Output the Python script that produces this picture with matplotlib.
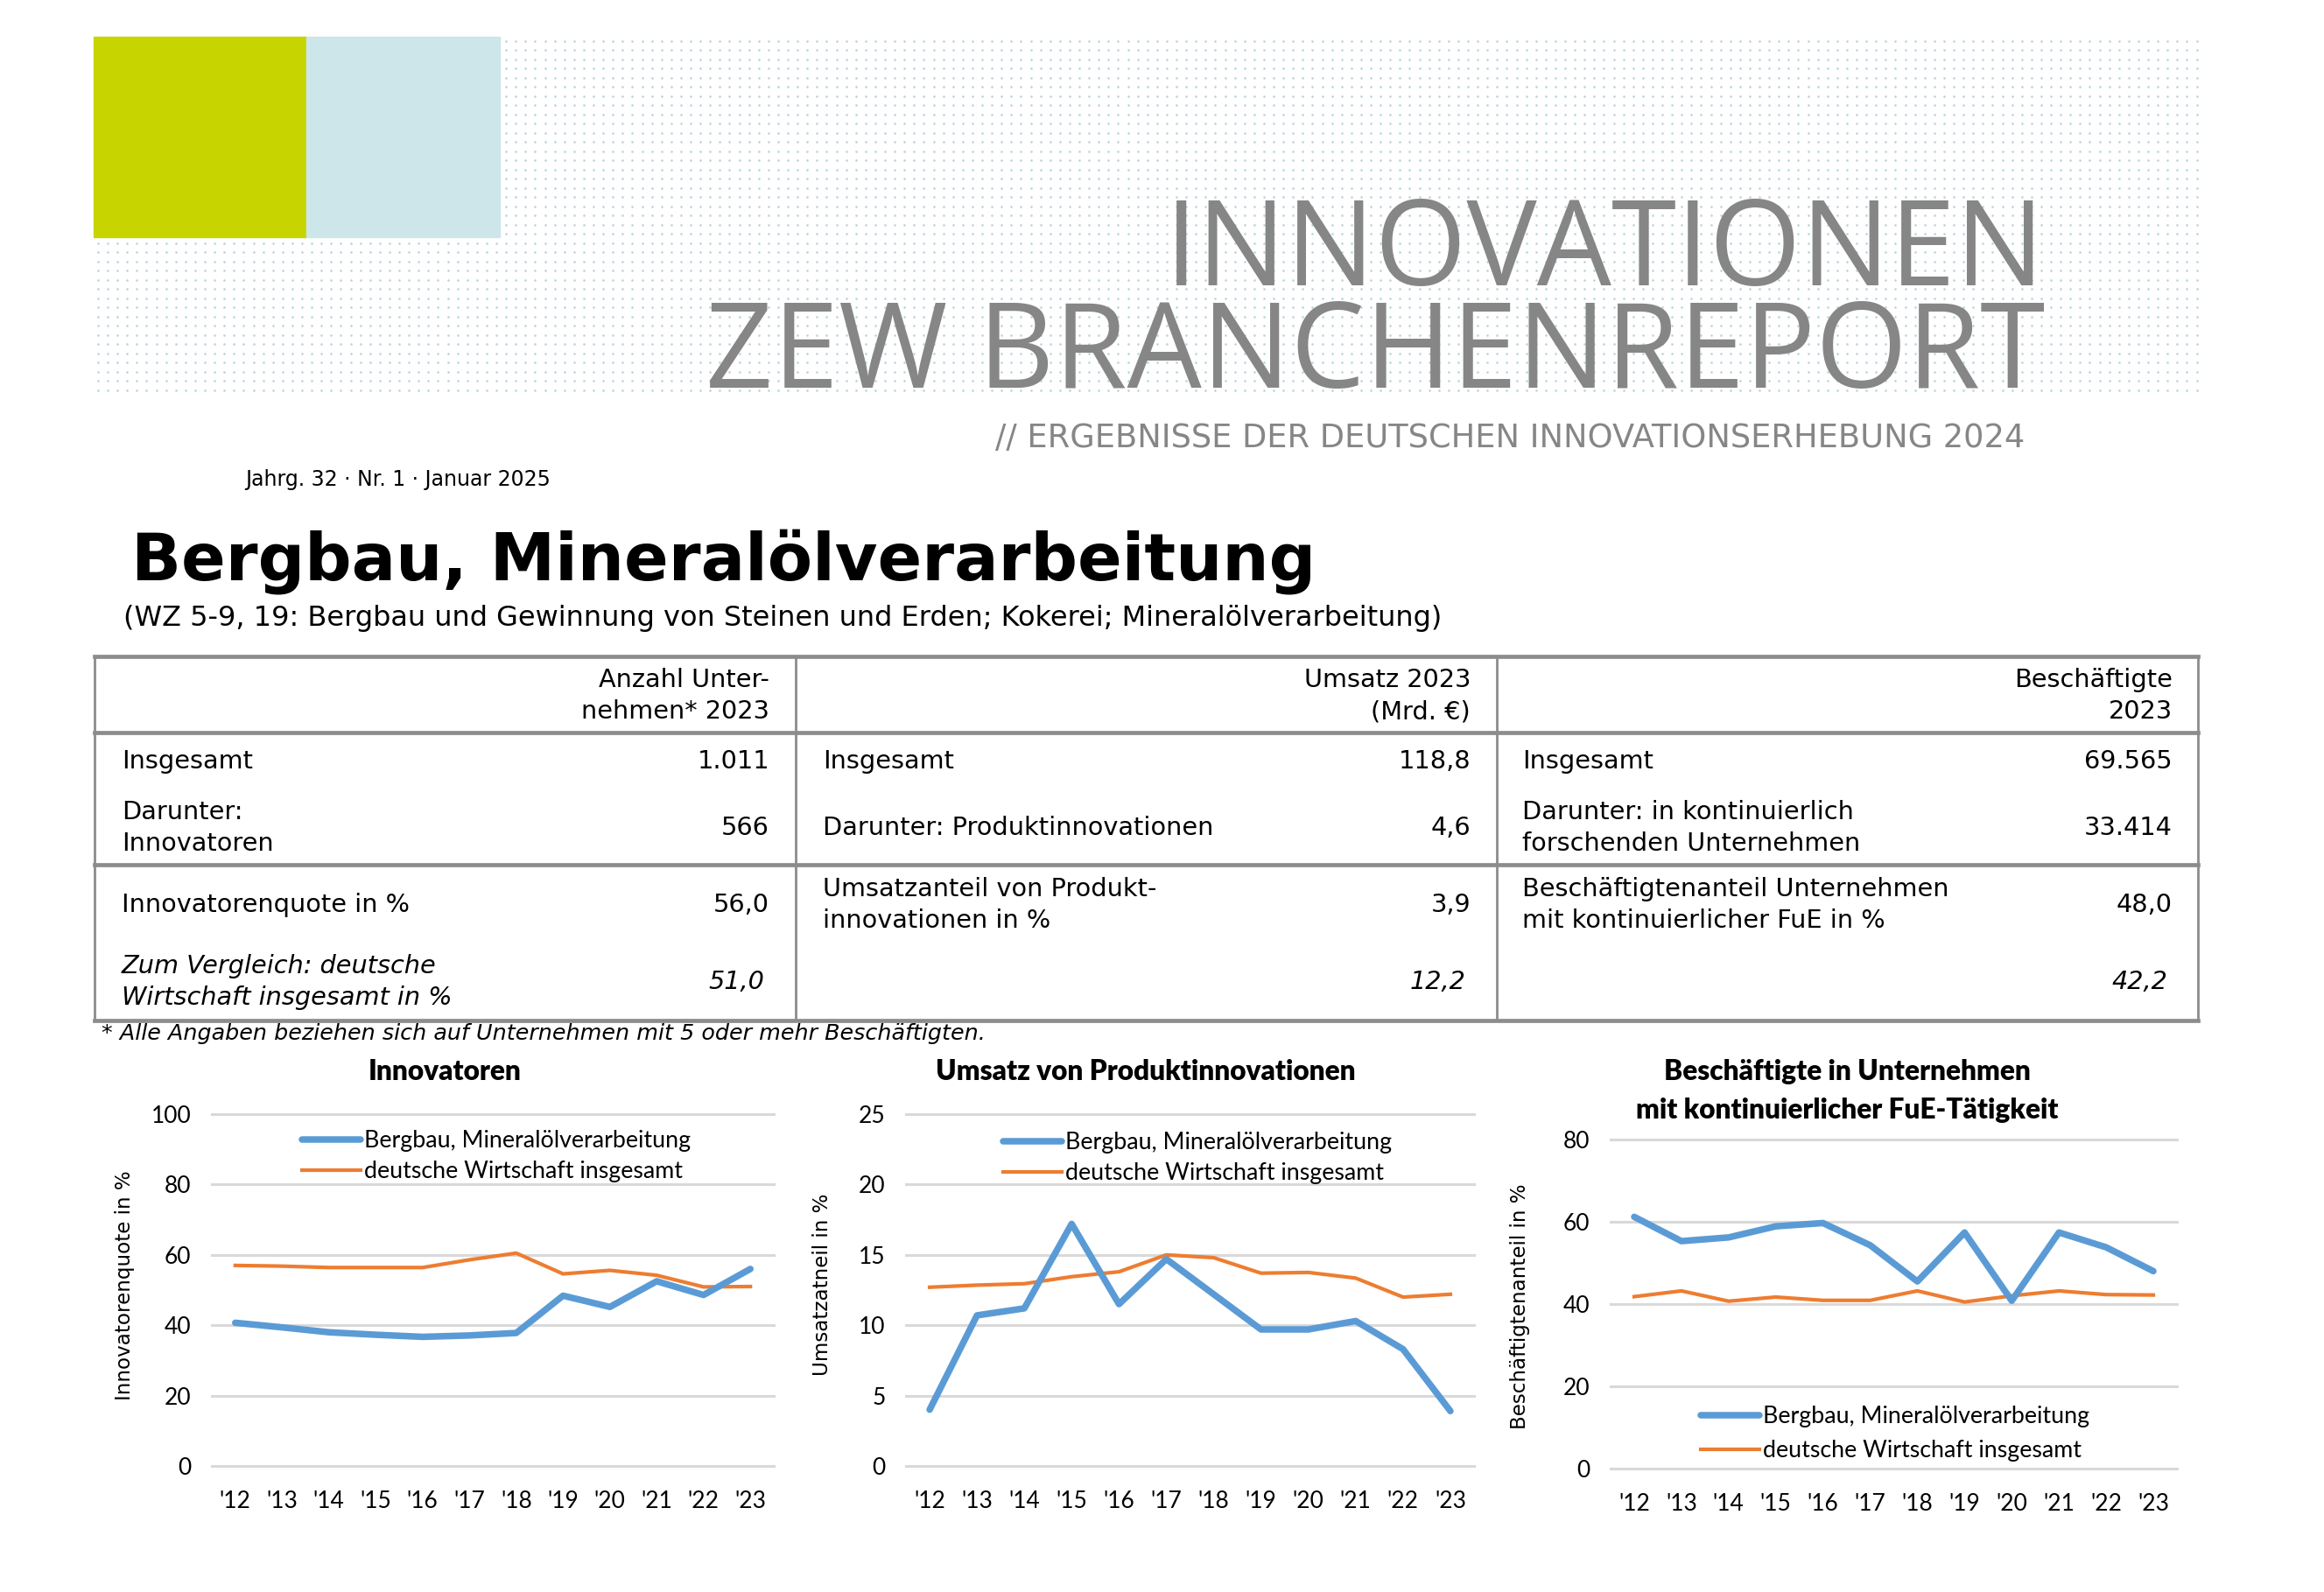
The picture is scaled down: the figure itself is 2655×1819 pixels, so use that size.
import numpy as np
import matplotlib.pyplot as plt

W, H = 2655, 1819

# ---- data ----
years = ["'12", "'13", "'14", "'15", "'16", "'17", "'18", "'19", "'20", "'21", "'22", "'23"]

innov_bergbau = [40.7, 39.4, 38.0, 37.3, 36.7, 37.1, 37.8, 48.4, 45.2, 52.5, 48.6, 56.0]
innov_gesamt = [57.0, 56.8, 56.4, 56.4, 56.4, 58.6, 60.5, 54.6, 55.6, 54.2, 50.9, 51.0]

umsatz_bergbau = [4.0, 10.7, 11.2, 17.2, 11.5, 14.7, 12.2, 9.7, 9.7, 10.3, 8.3, 3.9]
umsatz_gesamt = [12.7, 12.85, 12.95, 13.45, 13.8, 15.0, 14.8, 13.7, 13.75, 13.35, 12.0, 12.2]

fue_bergbau = [61.2, 55.3, 56.2, 58.9, 59.7, 54.3, 45.5, 57.4, 40.8, 57.4, 53.8, 48.0]
fue_gesamt = [41.8, 43.2, 40.7, 41.7, 40.9, 40.9, 43.2, 40.5, 42.0, 43.2, 42.3, 42.2]

series_names = ["Bergbau, Mineralölverarbeitung", "deutsche Wirtschaft insgesamt"]

table_head = [["Anzahl Unter-", "nehmen* 2023"], ["Umsatz 2023", "(Mrd. €)"], ["Beschäftigte", "2023"]]
col1_labels = [["Insgesamt"], ["Darunter:", "Innovatoren"], ["Innovatorenquote in %"],
               ["Zum Vergleich: deutsche", "Wirtschaft insgesamt in %"]]
col1_values = ["1.011", "566", "56,0", "51,0"]
col2_labels = [["Insgesamt"], ["Darunter: Produktinnovationen"],
               ["Umsatzanteil von Produkt-", "innovationen in %"], []]
col2_values = ["118,8", "4,6", "3,9", "12,2"]
col3_labels = [["Insgesamt"], ["Darunter: in kontinuierlich", "forschenden Unternehmen"],
               ["Beschäftigtenanteil Unternehmen", "mit kontinuierlicher FuE in %"], []]
col3_values = ["69.565", "33.414", "48,0", "42,2"]

BLUE = '#5b9bd5'
ORANGE = '#ed7d31'
GRID = '#d9d9d9'
GRAY = '#868686'
LINE = '#8c8c8c'

fig = plt.figure(figsize=(W / 100, H / 100), dpi=100)
bg = fig.add_axes([0, 0, 1, 1])
bg.set_xlim(0, W)
bg.set_ylim(H, 0)
bg.axis('off')

# ---- header band ----
gx, gy = np.meshgrid(np.arange(112, 2510, 11.1), np.arange(47, 448, 10.5))
bg.scatter(gx.ravel(), gy.ravel(), s=3.5, c='#b8d3db', linewidths=0, zorder=1)
bg.add_patch(plt.Rectangle((107, 42), 243, 229, color='#c8d400', zorder=2))
bg.add_patch(plt.Rectangle((350, 42), 221, 229, color='#cce6ea', zorder=2))

# va='baseline' on a two-line text anchors the last line
bg.text(2336, 443, "INNOVATIONEN\nZEW BRANCHENREPORT", fontsize=97, family='Open Sans',
        color=GRAY, ha='right', va='baseline', multialignment='right', linespacing=0.83,
        zorder=3)
bg.text(2313, 511, "// ERGEBNISSE DER DEUTSCHEN INNOVATIONSERHEBUNG 2024", fontsize=26.5,
        family='DejaVu Sans', color=GRAY, ha='right', va='baseline')

bg.text(280, 555, "Jahrg. 32 · Nr. 1 · Januar 2025", fontsize=17, family='DejaVu Sans',
        ha='left', va='baseline')
bg.text(150, 662, "Bergbau, Mineralölverarbeitung", fontsize=53.8, family='DejaVu Sans',
        fontweight='bold', ha='left', va='baseline')
bg.text(141, 715, "(WZ 5-9, 19: Bergbau und Gewinnung von Steinen und Erden; Kokerei; "
        "Mineralölverarbeitung)", fontsize=23, family='DejaVu Sans', ha='left', va='baseline')

# ---- table ----
tx0, tx1 = 108, 2511
for yy in [750, 837, 988, 1166]:
    bg.plot([tx0, tx1], [yy, yy], color=LINE, lw=3.4, solid_capstyle='projecting')
for xx in [tx0, 909, 1710, tx1]:
    bg.plot([xx, xx], [750, 1166], color=LINE, lw=2.0)

left_x = [139, 940, 1739]
right_x = [879, 1680, 2482]
row_y = [870, 946, 1034, 1122]
tfs = 20.7

for c in range(3):
    bg.text(right_x[c], 777, table_head[c][0], fontsize=tfs, ha='right', va='center')
    bg.text(right_x[c], 813, table_head[c][1], fontsize=tfs, ha='right', va='center')

for c, (labels, values) in enumerate([(col1_labels, col1_values), (col2_labels, col2_values),
                                      (col3_labels, col3_values)]):
    for r in range(4):
        style = 'italic' if r == 3 else 'normal'
        lines = labels[r]
        for k, line in enumerate(lines):
            yy = row_y[r] + (k - (len(lines) - 1) / 2) * 36
            bg.text(left_x[c], yy, line, fontsize=tfs, style=style, ha='left', va='center')
        bg.text(right_x[c] - (6 if r == 3 else 0), row_y[r], values[r], fontsize=tfs,
                style=style, ha='right', va='center')

bg.text(116, 1181, "* Alle Angaben beziehen sich auf Unternehmen mit 5 oder mehr Beschäftigten.",
        fontsize=18.3, style='italic', ha='left', va='center')


# ---- charts ----
def draw_chart(x0, x1, ytop, ybot, ymax, step, s_berg, s_ges):
    ax = fig.add_axes([x0 / W, 1 - ybot / H, (x1 - x0) / W, (ybot - ytop) / H])
    ax.patch.set_alpha(0)
    x = np.arange(len(years))
    ax.set_xlim(-0.5, len(years) - 0.5)
    ax.set_ylim(0, ymax)
    ax.set_yticks(np.arange(0, ymax + 1, step))
    ax.set_xticks(x)
    ax.set_xticklabels(years)
    for v in ax.get_yticks():
        ax.axhline(v, color=GRID, lw=2.2, zorder=0, clip_on=False)
    ax.plot(x, s_berg, color=BLUE, lw=5.4, solid_capstyle='round', solid_joinstyle='round',
            label=series_names[0], zorder=3)
    ax.plot(x, s_ges, color=ORANGE, lw=3.0, solid_joinstyle='round',
            label=series_names[1], zorder=2)
    for sp in ax.spines.values():
        sp.set_visible(False)
    ax.tick_params(axis='both', length=0, labelsize=19)
    ax.tick_params(axis='x', pad=20)
    ax.tick_params(axis='y', pad=17)
    for lab in ax.get_xticklabels() + ax.get_yticklabels():
        lab.set_family('Lato')
    return ax


def finish(ax, title_lines, tx, ylab, lx, ly, legx, legy, legsp):
    for k, t in enumerate(title_lines):
        ax.text(tx, 1224 + k * 44, t, transform=bg.transData, ha='center', va='center',
                fontsize=22.8, fontweight='heavy', family='Lato')
    ax.set_ylabel(ylab, fontsize=16.6, family='DejaVu Sans')
    ax.yaxis.label.set_verticalalignment('center')
    ax.yaxis.set_label_coords(lx, ly, transform=bg.transData)
    ax.legend(loc='upper left', bbox_to_anchor=(legx, legy), bbox_transform=bg.transData,
              frameon=False, borderpad=0, borderaxespad=0, handlelength=2.5,
              handletextpad=0.15, labelspacing=legsp, prop={'family': 'Lato', 'size': 19.3})


ax1 = draw_chart(242, 884, 1273, 1675, 100, 20, innov_bergbau, innov_gesamt)
finish(ax1, ["Innovatoren"], 508, "Innovatorenquote in %", 143, 1469, 345, 1291, 0.38)

ax2 = draw_chart(1035, 1684, 1273, 1675, 25, 5, umsatz_bergbau, umsatz_gesamt)
finish(ax2, ["Umsatz von Produktinnovationen"], 1309, "Umsatzatneil in %", 940, 1468,
       1146, 1293, 0.38)

ax3 = draw_chart(1840, 2487, 1302, 1678, 80, 20, fue_bergbau, fue_gesamt)
finish(ax3, ["Beschäftigte in Unternehmen", "mit kontinuierlicher FuE-Tätigkeit"], 2110,
       "Beschäftigtenanteil in %", 1737, 1493, 1943, 1606, 0.53)

fig.savefig('out.png', dpi=100, facecolor='white')
